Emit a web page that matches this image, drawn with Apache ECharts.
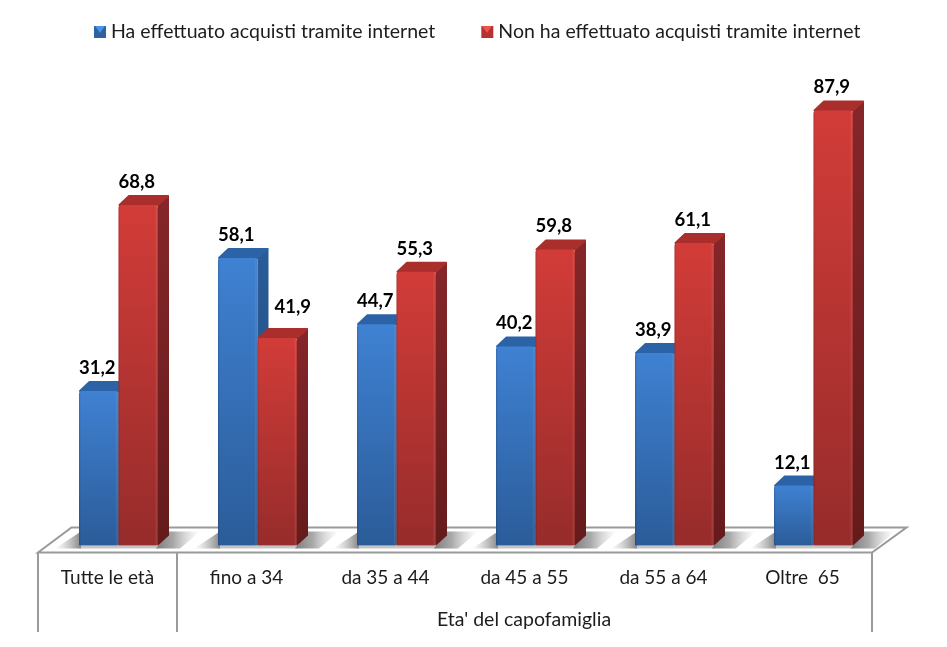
<!DOCTYPE html>
<html>
<head>
<meta charset="utf-8">
<style>html,body{margin:0;padding:0;background:#fff}#c{width:947px;height:647px}</style>
<script src="https://cdn.jsdelivr.net/npm/echarts@6/dist/echarts.min.js"></script>
</head>
<body>
<div id="c"></div>
<script>
var categories = ['Tutte le età', 'fino a 34', 'da 35 a 44', 'da 45 a 55', 'da 55 a 64', 'Oltre  65'];
var withPurchases = [31.2, 58.1, 44.7, 40.2, 38.9, 12.1];
var withoutPurchases = [68.8, 41.9, 55.3, 59.8, 61.1, 87.9];
var seriesNames = ['Ha effettuato acquisti tramite internet', 'Non ha effettuato acquisti tramite internet'];
var groupTitle = "Eta' del capofamiglia";

var FONT = 'Lato';
var BAR_W = 39.5, DX = 11, DY = 10, LEAD = 41;

function vgrad(a, b) {
  return new echarts.graphic.LinearGradient(0, 0, 0, 1, [{offset: 0, color: a}, {offset: 1, color: b}]);
}
function hgrad(stops) {
  return new echarts.graphic.LinearGradient(0, 0, 1, 0, stops);
}
var palette = [
  {front: ['#3f81d2', '#2b5c99'], side: ['#2a5c98', '#1f4a7c'], top: '#2c62a6', legend: '#2f639f'},
  {front: ['#d23c38', '#962c2b'], side: ['#85262a', '#651b1b'], top: '#a92e2c', legend: '#b8302f'}
];

function othersValue(which, i) { return which === 1 ? withPurchases[i] : withoutPurchases[i]; }

function makeRender(which) {
  return function (params, api) {
    var i = api.value(0), v = api.value(1);
    var base = api.coord([i, 0]), topPt = api.coord([i, v]);
    var band = api.size([1, 0])[0];
    var x = base[0] - band / 2 + LEAD + which * BAR_W;
    var y0 = base[1], y1 = topPt[1];
    var c = palette[which];
    var kids = [];
    if (which === 0) {
      var r = x + 2 * BAR_W;
      // soft floor shadow, left of the pair
      kids.push({type: 'polygon', shape: {points: [[x + 2, y0 - 14], [x + 2, y0 + 3], [x - 24, y0 + 3]]},
        style: {fill: hgrad([{offset: 0, color: 'rgba(170,170,170,0)'}, {offset: 1, color: 'rgba(120,120,120,.9)'}])}});
      // soft floor shadow, right of the pair
      kids.push({type: 'polygon', shape: {points: [[r - 2, y0 + 3], [r + DX - 2, y0 - 14], [r + 42, y0 - 14], [r + 22, y0 + 3]]},
        style: {fill: hgrad([{offset: 0, color: 'rgba(110,110,110,.9)'}, {offset: .4, color: 'rgba(140,140,140,.75)'}, {offset: 1, color: 'rgba(190,190,190,0)'}])}});
      // thin strip under the front faces
      kids.push({type: 'rect', shape: {x: x, y: y0, width: 2 * BAR_W, height: 3}, style: {fill: 'rgba(150,150,150,.55)'}});
    }
    kids.push({type: 'polygon', shape: {points: [[x + BAR_W, y0], [x + BAR_W + DX, y0 - DY], [x + BAR_W + DX, y1 - DY], [x + BAR_W, y1]]},
      style: {fill: vgrad(c.side[0], c.side[1]), lineJoin: 'round'}});
    kids.push({type: 'polygon', shape: {points: [[x + 1, y1], [x + DX - 0.5, y1 - DY + 1], [x + BAR_W + DX - 1, y1 - DY + 1], [x + BAR_W, y1]]},
      style: {fill: c.top, stroke: c.top, lineWidth: 2, lineJoin: 'round'}});
    kids.push({type: 'rect', shape: {x: x, y: y1, width: BAR_W, height: y0 - y1, r: [3, 3, 1, 1]},
      style: {fill: vgrad(c.front[0], c.front[1])}});
    kids.push({type: 'rect', shape: {x: x, y: y1, width: BAR_W, height: y0 - y1, r: [3, 3, 1, 1]},
      style: {fill: hgrad([{offset: 0, color: 'rgba(0,0,0,.16)'}, {offset: .05, color: 'rgba(0,0,0,0)'}, {offset: .92, color: 'rgba(255,255,255,0)'}, {offset: .96, color: 'rgba(255,255,255,.08)'}, {offset: 1, color: 'rgba(0,0,0,.12)'}])}});
    var shifted = which === 1 && v < othersValue(which, i);
    kids.push({type: 'text', z2: 10, style: {
      text: v.toFixed(1).replace('.', ','),
      x: x + BAR_W / 2 - 1.5 + (shifted ? 17 : 0),
      y: y1 - 23 - (shifted ? 8 : 0),
      align: 'center', verticalAlign: 'middle',
      font: 'bold 18.5px ' + FONT, fill: '#000'
    }});
    return {type: 'group', children: kids};
  };
}

function pairs(vals) { return vals.map(function (v, i) { return [i, v]; }); }

var GRAY = '#9a9a9a';
function line(x1, y1, x2, y2) {
  return {type: 'line', z: 0, shape: {x1: x1, y1: y1, x2: x2, y2: y2}, style: {stroke: GRAY, lineWidth: 2}};
}
function legendTriangle(x, color) {
  return {type: 'polygon', z: 20, shape: {points: [[x + 1, 26], [x + 11, 26], [x + 6, 33]]}, style: {fill: color}};
}

var chart = echarts.init(document.getElementById('c'), null, {renderer: 'canvas'});
chart.setOption({
  animation: false,
  backgroundColor: '#fff',
  textStyle: {fontFamily: FONT},
  grid: {left: 38, width: 834, top: 50.5, bottom: 101.5, containLabel: false},
  legend: {
    left: 94, top: 22, padding: 0, itemWidth: 12, itemHeight: 12, itemGap: 46,
    data: [{name: seriesNames[0], icon: 'rect'}, {name: seriesNames[1], icon: 'rect'}],
    textStyle: {fontFamily: FONT, fontSize: 19.5, color: '#1c1c1c'},
    selectedMode: false
  },
  tooltip: {show: false},
  xAxis: {
    type: 'category', data: categories,
    axisLine: {show: false}, axisTick: {show: false},
    axisLabel: {interval: 0, margin: 23, fontFamily: FONT, fontSize: 19, color: '#1c1c1c'}
  },
  yAxis: {type: 'value', min: 0, max: 100, show: false, splitLine: {show: false}},
  series: [
    {name: seriesNames[0], type: 'custom', z: 2, data: pairs(withPurchases), encode: {x: 0, y: 1},
     itemStyle: {color: palette[0].legend}, renderItem: makeRender(0)},
    {name: seriesNames[1], type: 'custom', z: 3, data: pairs(withoutPurchases), encode: {x: 0, y: 1},
     itemStyle: {color: palette[1].legend}, renderItem: makeRender(1)}
  ],
  graphic: {elements: [
    {type: 'polygon', z: 0, shape: {points: [[38, 552.5], [71.5, 527.5], [906.5, 527.5], [872, 552.5]]},
     style: {fill: '#fff', stroke: GRAY, lineWidth: 2}},
    line(38, 552.5, 38, 632),
    line(177, 552.5, 177, 632),
    line(872, 552.5, 872, 632),
    legendTriangle(94, '#4a93e6'),
    legendTriangle(481, '#ec5450'),
    {type: 'text', z: 5, style: {text: groupTitle, x: 524, y: 620, align: 'center', verticalAlign: 'middle',
      font: '19.5px ' + FONT, fill: '#1c1c1c'}}
  ]}
});
</script>
</body>
</html>
